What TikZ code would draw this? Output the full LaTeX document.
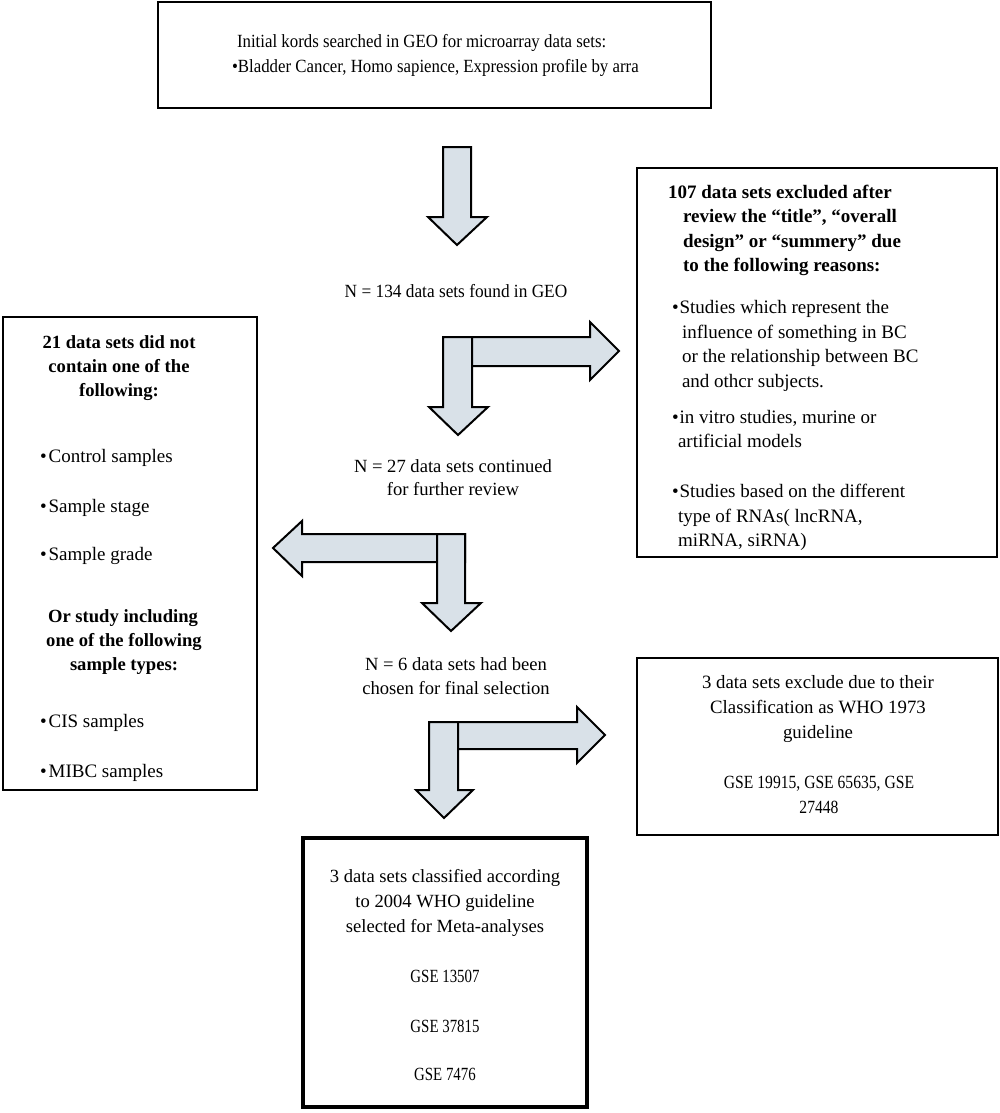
\documentclass[tikz,border=0pt]{standalone}
\usepackage{fontspec}
\usepackage{graphicx}
\setmainfont{Liberation Serif}
\definecolor{afill}{RGB}{217,225,232}
\newcommand\hsqz[2]{\scalebox{#1}[1]{#2}}
\begin{document}
\begin{tikzpicture}[x=1pt,y=-1pt]
\tikzset{
 box/.style={draw, line width=2, outer sep=0, inner sep=0, anchor=north west},
 fat/.style={draw=black, line width=2, fill=afill, line join=miter},
 t/.style={inner sep=0, outer sep=0, font=\fontsize{#1}{24}\selectfont},
 t/.default=18.6,
 tb/.style={inner sep=0, outer sep=0, font=\fontsize{#1}{24}\selectfont\bfseries},
 tb/.default=18.6,
}
\useasboundingbox (0,0) rectangle (1000,1113);
\fill[white] (0,0) rectangle (1000,1113);

% boxes
\node[box, minimum width=553, minimum height=106] (top) at (158,2) {};
\node[box, minimum width=360, minimum height=389] (r1) at (637,168) {};
\node[box, minimum width=254, minimum height=473] (lb) at (3,317) {};
\node[box, minimum width=361, minimum height=177] (r2) at (637,658) {};
\node[box, line width=4, minimum width=284, minimum height=269] (fin) at (303,838) {};

% fat arrows
\draw[fat] (443,147) -- (471,147) -- (471,217) -- (487,217) -- (457,245) -- (428,217) -- (443,217) -- cycle;

\draw[fat] (443,337) -- (590,337) -- (590,322) -- (619,351) -- (590,380) -- (590,366) -- (443,366) -- cycle;
\draw[fat] (443,337) -- (472,337) -- (472,407) -- (488,407) -- (458,435) -- (429,407) -- (443,407) -- cycle;

\draw[fat] (465,534) -- (302,534) -- (302,521) -- (273,548) -- (302,576) -- (302,562) -- (465,562) -- cycle;
\draw[fat] (437,534) -- (465,534) -- (465,603) -- (481,603) -- (451,631) -- (422,603) -- (437,603) -- cycle;

\draw[fat] (429,722) -- (577,722) -- (577,707) -- (605,735) -- (577,763) -- (577,749) -- (429,749) -- cycle;
\draw[fat] (429,722) -- (458,722) -- (458,790) -- (473,790) -- (444,818) -- (416,790) -- (429,790) -- cycle;

% top box text
\node[t, anchor=base west] (a1) at (237,48) {\hsqz{0.905}{Initial kords searched in GEO for microarray data sets:}};
\node[t, anchor=base west] (a2) at (232,73) {\hsqz{0.905}{\textbullet Bladder Cancer, Homo sapience, Expression profile by arra}};

% middle texts
\node[t, anchor=base] (n1) at (456,297) {\hsqz{0.93}{N = 134 data sets found in GEO}};
\node[t, anchor=base] (n2a) at (453,472) {N = 27 data sets continued};
\node[t, anchor=base] (n2b) at (453,495) {for further review};
\node[t, anchor=base] (n3a) at (456,670) {N = 6 data sets had been};
\node[t, anchor=base] (n3b) at (456,694) {chosen for final selection};

% right box 1
\node[tb=19, anchor=base west] (r1a) at (668,198) {107 data sets excluded after};
\node[tb=19, anchor=base west] (r1b) at (683,222) {review the “title”, “overall};
\node[tb=19, anchor=base west] (r1c) at (683,247) {design” or “summery” due};
\node[tb=19, anchor=base west] (r1d) at (683,271) {to the following reasons:};
\node[t=19, anchor=base west] (r1e) at (672,313) {\textbullet\hspace{1pt}Studies which represent the};
\node[t=19, anchor=base west] (r1f) at (682,338) {influence of something in BC};
\node[t=19, anchor=base west] (r1g) at (682,362) {or the relationship between BC};
\node[t=19, anchor=base west] (r1h) at (682,387) {and othcr subjects.};
\node[t=19, anchor=base west] (r1i) at (672,423) {\textbullet\hspace{1pt}in vitro studies, murine or};
\node[t=19, anchor=base west] (r1j) at (678,447) {artificial models};
\node[t=19, anchor=base west] (r1k) at (672,497) {\textbullet\hspace{1pt}Studies based on the different};
\node[t=19, anchor=base west] (r1l) at (678,522) {type of RNAs( lncRNA,};
\node[t=19, anchor=base west] (r1m) at (678,546) {miRNA, siRNA)};

% left box
\node[tb, anchor=base] (la) at (119,348) {21 data sets did not};
\node[tb, anchor=base] (lb1) at (119,372) {contain one of the};
\node[tb, anchor=base] (lc) at (119,396) {following:};
\node[t=19, anchor=base west] (ld) at (40,462) {\textbullet\hspace{2pt}Control samples};
\node[t=19, anchor=base west] (le) at (40,512) {\textbullet\hspace{2pt}Sample stage};
\node[t=19, anchor=base west] (lf) at (40,560) {\textbullet\hspace{2pt}Sample grade};
\node[tb, anchor=base] (lg) at (123,622) {Or study including};
\node[tb, anchor=base] (lh) at (124,646) {one of the following};
\node[tb, anchor=base] (li) at (124,670) {sample types:};
\node[t=19, anchor=base west] (lj) at (40,727) {\textbullet\hspace{2pt}CIS samples};
\node[t=19, anchor=base west] (lk) at (40,777) {\textbullet\hspace{2pt}MIBC samples};

% right box 2
\node[t=18.8, anchor=base] (ra) at (818,688) {3 data sets exclude due to their};
\node[t=18.8, anchor=base] (rb) at (818,713) {Classification as WHO 1973};
\node[t=18.8, anchor=base] (rc) at (818,738) {guideline};
\node[t, anchor=base] (rd) at (819,788) {\hsqz{0.84}{GSE 19915, GSE 65635, GSE}};
\node[t, anchor=base] (re) at (819,813) {\hsqz{0.84}{27448}};

% final box
\node[t, anchor=base] (fa) at (445,882) {3 data sets classified according};
\node[t, anchor=base] (fb) at (445,907) {to 2004 WHO guideline};
\node[t, anchor=base] (fc) at (445,932) {selected for Meta-analyses};
\node[t, anchor=base] (fd) at (445,982) {\hsqz{0.8}{GSE 13507}};
\node[t, anchor=base] (fe) at (445,1032) {\hsqz{0.8}{GSE 37815}};
\node[t, anchor=base] (ff) at (445,1080) {\hsqz{0.8}{GSE 7476}};
\end{tikzpicture}
\end{document}
